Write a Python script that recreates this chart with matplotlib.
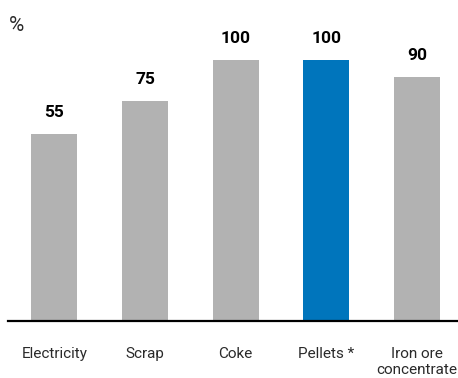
import numpy as np
import matplotlib
matplotlib.use('Agg')
import matplotlib.pyplot as plt

plt.rcParams['font.family'] = ['Roboto', 'DejaVu Sans']

categories = ['Electricity', 'Scrap', 'Coke', 'Pellets *', 'Iron ore\nconcentrate']
values = [55, 75, 100, 100, 90]
colors = ['#b2b2b2', '#b2b2b2', '#b2b2b2', '#0075bc', '#b2b2b2']

base = -60  # axis floor in the original chart

fig = plt.figure(figsize=(4.58, 3.78), dpi=100)
ax = fig.add_axes([8 / 458, 57 / 378, 450 / 458, 321 / 378])

x = np.arange(len(categories))
heights = np.array(values) - base
ax.bar(x, heights, bottom=base, width=0.507, color=colors)

for xi, v in zip(x, values):
    ax.annotate(str(v), (xi, v), xytext=(0, 12.3), textcoords='offset points',
                ha='center', va='baseline', fontsize=12.5, fontweight='bold', color='black')

ax.set_xlim(-0.51, 4.45)
ax.set_ylim(base, 137)
ax.set_xticks(x)
ax.set_xticklabels(categories, fontsize=11, color='#2a2a2a', linespacing=1.25)
ax.tick_params(axis='x', length=0, pad=18.5)
ax.set_yticks([])

for s in ['top', 'right', 'left']:
    ax.spines[s].set_visible(False)
ax.spines['bottom'].set_linewidth(1.6)
ax.spines['bottom'].set_color('black')

fig.text(9 / 458, (378 - 31) / 378, '%', fontsize=15, va='baseline', ha='left', color='#2a2a2a')

fig.savefig('out.png', dpi=100)
